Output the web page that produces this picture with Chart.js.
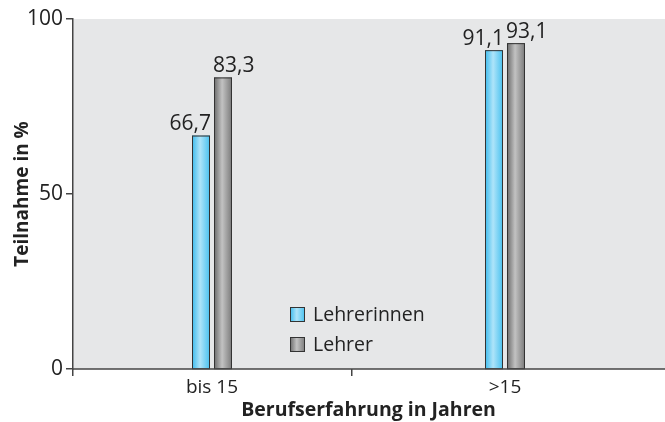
<!DOCTYPE html>
<html>
<head>
<meta charset="utf-8">
<script src="https://cdn.jsdelivr.net/npm/chart.js@4/dist/chart.umd.min.js"></script>
<style>
  html, body { margin: 0; padding: 0; background: #fff; }
  #wrap { width: 665px; height: 422px; position: relative; }
</style>
</head>
<body>
<div id="wrap"><canvas id="chart"></canvas></div>
<script>
const categories = ['bis 15', '>15'];
const lehrerinnen = [66.7, 91.1];
const lehrer = [83.3, 93.1];
const yTicks = [0, 50, 100];

const FONT = '"Open Sans", "Noto Sans", sans-serif';

// x-Achse: Kategorien liegen bei 0 und 1, Bereich etwas asymmetrisch wie im Original
const X_MIN = -0.4744;
const X_MAX = 1.5427;
const X_SPLIT = 0.478; // Teilstrich zwischen den Gruppen

// Farbverläufe der Balken (links -> Mitte -> rechts)
const shades = [
    ['#3cbbed', '#aee4f9', '#48c1ef'],
    ['#6a6a6a', '#c2c2c2', '#7a7a7a']
];

function hGradient(ctx, x0, x1, stops) {
    const g = ctx.createLinearGradient(x0, 0, x1, 0);
    g.addColorStop(0, stops[0]);
    g.addColorStop(0.45, stops[1]);
    g.addColorStop(1, stops[2]);
    return g;
}

const bgPlugin = {
    id: 'bg',
    beforeDraw(chart) {
        const { ctx, chartArea } = chart;
        ctx.save();
        ctx.fillStyle = '#e6e7e8';
        ctx.fillRect(chartArea.left, chartArea.top, chart.width - chartArea.left, chartArea.bottom - chartArea.top);
        ctx.restore();
    },
    afterDatasetsDraw(chart) {
        const { ctx, chartArea } = chart;
        ctx.save();
        // Verlauf auf die Balken legen
        chart.data.datasets.forEach((ds, i) => {
            chart.getDatasetMeta(i).data.forEach(bar => {
                const { x, y, base, width } = bar.getProps(['x', 'y', 'base', 'width']);
                const l = x - width / 2, r = x + width / 2;
                ctx.fillStyle = hGradient(ctx, l, r, shades[i]);
                ctx.fillRect(l, y, width, base - y);
                ctx.strokeStyle = '#333';
                ctx.lineWidth = 1;
                ctx.strokeRect(l + 0.5, y + 0.5, width - 1, base - y);
            });
        });
        ctx.strokeStyle = '#444';
        ctx.lineWidth = 1.5;
        ctx.beginPath();
        ctx.moveTo(chartArea.left, chartArea.bottom);
        ctx.lineTo(chart.width, chartArea.bottom);
        ctx.stroke();
        ctx.restore();
    }
};

// Werte über den Balken (deutsches Zahlenformat)
const valuePlugin = {
    id: 'values',
    afterDatasetsDraw(chart) {
        const { ctx } = chart;
        ctx.save();
        ctx.font = '21px ' + FONT;
        ctx.fillStyle = '#222';
        ctx.textBaseline = 'bottom';
        chart.data.datasets.forEach((ds, i) => {
            chart.getDatasetMeta(i).data.forEach((bar, j) => {
                const txt = ds.data[j].y.toFixed(1).replace('.', ',');
                if (i === 0) {
                    ctx.textAlign = 'right';
                    ctx.fillText(txt, bar.x + bar.width / 2 + 1, bar.y - 1);
                } else {
                    ctx.textAlign = 'left';
                    ctx.fillText(txt, bar.x - bar.width / 2 - 1, bar.y - 1);
                }
            });
        });
        ctx.restore();
    }
};

// Legende innerhalb der Grafik
const legendPlugin = {
    id: 'innerLegend',
    afterDraw(chart) {
        const { ctx } = chart;
        ctx.save();
        ctx.font = '19.5px ' + FONT;
        ctx.textBaseline = 'middle';
        chart.data.datasets.forEach((ds, i) => {
            const x = 290, y = 307 + i * 30;
            ctx.fillStyle = hGradient(ctx, x, x + 15, shades[i]);
            ctx.fillRect(x, y, 15, 15);
            ctx.strokeStyle = '#333';
            ctx.lineWidth = 1;
            ctx.strokeRect(x + 0.5, y + 0.5, 14, 14);
            ctx.fillStyle = '#222';
            ctx.fillText(ds.label, x + 23, y + 8);
        });
        ctx.restore();
    }
};

const ctx = document.getElementById('chart').getContext('2d');

new Chart(ctx, {
    type: 'bar',
    data: {
        datasets: [{
            label: 'Lehrerinnen',
            data: lehrerinnen.map((v, i) => ({ x: i, y: v })),
            backgroundColor: '#62cbf3',
            borderColor: '#333',
            borderWidth: 1
        }, {
            label: 'Lehrer',
            data: lehrer.map((v, i) => ({ x: i, y: v })),
            backgroundColor: '#969696',
            borderColor: '#333',
            borderWidth: 1
        }]
    },
    options: {
        responsive: true,
        maintainAspectRatio: false,
        animation: false,
        layout: { padding: { top: 19, right: 1, left: 0, bottom: 0 } },
        datasets: {
            bar: { categoryPercentage: 0.3165, barPercentage: 0.818 }
        },
        scales: {
            x: {
                type: 'linear',
                min: X_MIN, max: X_MAX,
                offset: false,
                afterBuildTicks(scale) {
                    scale.ticks = [X_MIN, 0, X_SPLIT, 1].map(v => ({ value: v }));
                },
                grid: {
                    offset: false,
                    drawOnChartArea: false, tickLength: 7, lineWidth: 1.5,
                    color: c => (c.tick && (c.tick.value === 0 || c.tick.value === 1)) ? 'rgba(0,0,0,0)' : '#444'
                },
                border: { display: false },
                ticks: {
                    color: '#222', font: { family: FONT, size: 19 }, padding: 0,
                    autoSkip: false, maxRotation: 0,
                    callback: v => (v === 0 || v === 1) ? categories[v] : ''
                },
                title: { display: true, text: 'Berufserfahrung in Jahren', color: '#222', font: { family: FONT, size: 19.5, weight: 'bold' }, padding: 0 },
                afterFit(scale) { scale.height = 53; }
            },
            y: {
                min: 0, max: 100,
                afterBuildTicks(scale) { scale.ticks = yTicks.map(v => ({ value: v })); },
                grid: { drawOnChartArea: false, color: '#444', tickLength: 7, lineWidth: 1.5 },
                border: { color: '#444', width: 1.5 },
                ticks: { color: '#222', font: { family: FONT, size: 21 }, padding: 3 },
                title: { display: true, text: 'Teilnahme in %', color: '#222', font: { family: FONT, size: 19, weight: 'bold' }, padding: { top: 11, bottom: 0 } },
                afterFit(scale) { scale.width = 73; }
            }
        },
        plugins: {
            legend: { display: false },
            tooltip: { enabled: false }
        }
    },
    plugins: [bgPlugin, valuePlugin, legendPlugin]
});
</script>
</body>
</html>
